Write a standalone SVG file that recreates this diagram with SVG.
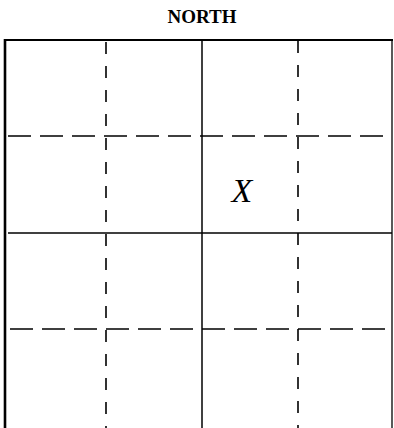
<svg xmlns="http://www.w3.org/2000/svg" width="394" height="428" viewBox="0 0 394 428">
<style>
.t{font-family:"Liberation Serif","Times New Roman",serif;font-weight:bold;font-size:19px;fill:#000}
.b{stroke:#000;fill:none}
.dv{stroke:#000;stroke-width:1.6;stroke-dasharray:12 12;fill:none}
.dh{stroke:#000;stroke-width:1.6;stroke-dasharray:23 9;fill:none}
.s{stroke:#000;stroke-width:1.5;fill:none}
</style>
<rect width="394" height="428" fill="#fff"/>
<text class="t" x="202" y="23" text-anchor="middle">NORTH</text>
<g id="border">
<line class="b" x1="5" y1="40" x2="393" y2="40" stroke-width="2"/>
<line class="b" x1="5" y1="39" x2="5" y2="428" stroke-width="2.6"/>
<line class="b" x1="392" y1="40" x2="392" y2="428" stroke-width="1.3"/>
</g>
<g id="grid">
<line class="dv" x1="106" y1="42" x2="106" y2="428"/>
<line class="s" x1="202" y1="41" x2="202" y2="428"/>
<line class="dv" x1="298" y1="41" x2="298" y2="428"/>
<line class="dh" x1="8" y1="136" x2="392" y2="136"/>
<line class="s" x1="8" y1="233" x2="392" y2="233"/>
<line class="dh" x1="10" y1="329" x2="392" y2="329"/>
</g>
<text x="242" y="202" font-family="Liberation Serif, serif" font-style="italic" font-size="34" text-anchor="middle" fill="#000">X</text>
</svg>
